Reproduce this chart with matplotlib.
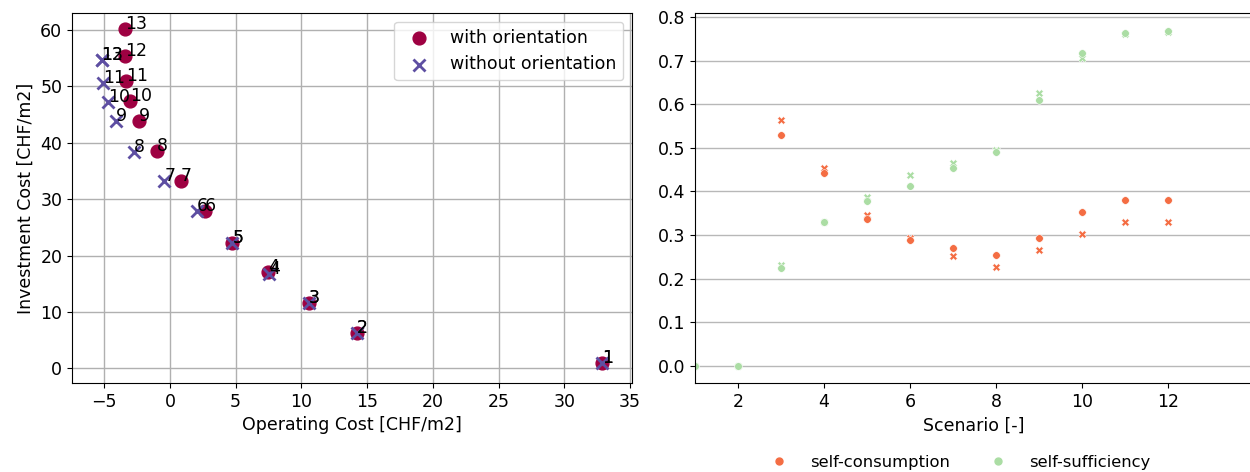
import matplotlib
matplotlib.use("Agg")
import matplotlib.pyplot as plt
from matplotlib.lines import Line2D
import numpy as np

# ---- left chart data ----
labels = ["1", "2", "3", "4", "5", "6", "7", "8", "9", "10", "11", "12", "13"]
op_with = [32.85, 14.2, 10.55, 7.48, 4.74, 2.66, 0.81, -1.01, -2.36, -3.04, -3.35, -3.42, -3.42]
inv_with = [0.94, 6.26, 11.6, 17.0, 22.3, 27.9, 33.2, 38.5, 43.9, 47.4, 51.0, 55.4, 60.1]
op_without = [32.85, 14.2, 10.55, 7.55, 4.74, 2.03, -0.43, -2.74, -4.13, -4.69, -5.12, -5.2, -5.2]
inv_without = [0.94, 6.26, 11.6, 16.8, 22.3, 27.9, 33.2, 38.4, 43.8, 47.3, 50.6, 54.7, 54.7]

# ---- right chart data ----
scenarios = [1, 2, 3, 4, 5, 6, 7, 8, 9, 10, 11, 12]
sc_with = [np.nan, np.nan, 0.530, 0.443, 0.336, 0.288, 0.270, 0.254, 0.293, 0.352, 0.380, 0.380]
sc_without = [np.nan, np.nan, 0.564, 0.455, 0.345, 0.292, 0.251, 0.227, 0.265, 0.303, 0.330, 0.331]
ss_with = [0.0, 0.0, 0.225, 0.330, 0.378, 0.412, 0.454, 0.490, 0.611, 0.717, 0.765, 0.769]
ss_without = [0.0, 0.0, 0.232, 0.330, 0.388, 0.437, 0.466, 0.496, 0.626, 0.707, 0.762, 0.767]

c_with = "#9e0142"
c_without = "#5e4fa2"
c_sc = "#f46d43"
c_ss = "#abdda4"

FS = 12.5
plt.rcParams["font.family"] = ["DejaVu Sans"]
plt.rcParams["font.size"] = FS

fig = plt.figure(figsize=(12.5, 4.72), dpi=100)
W, H = 1250, 472

def ax_rect(x0, x1, y0, y1):
    return [x0 / W, 1 - y1 / H, (x1 - x0) / W, (y1 - y0) / H]

ax1 = fig.add_axes(ax_rect(72, 632, 13, 383))
ax1.set_axisbelow(True)
ax1.grid(True, color="#b0b0b0", linewidth=1.0)
ax1.scatter(op_with, inv_with, s=85, color=c_with, marker="o", label="with orientation", zorder=2)
ax1.scatter(op_without, inv_without, s=75, color=c_without, marker="x", linewidths=2, label="without orientation", zorder=3)
for lab, x, y in zip(labels, op_with, inv_with):
    ax1.annotate(lab, (x, y), fontsize=FS, zorder=4)
for lab, x, y in zip(labels, op_without, inv_without):
    ax1.annotate(lab, (x, y), fontsize=FS, zorder=4)
ax1.set_xlim(-7.45, 35.15)
ax1.set_ylim(-2.6, 63.0)
ax1.set_xticks([-5, 0, 5, 10, 15, 20, 25, 30, 35])
ax1.set_yticks([0, 10, 20, 30, 40, 50, 60])
ax1.set_xlabel("Operating Cost [CHF/m2]")
ax1.set_ylabel("Investment Cost [CHF/m2]")
ax1.legend(loc="upper right", fontsize=FS, framealpha=0.8, edgecolor="#cccccc")

ax2 = fig.add_axes(ax_rect(695, 1252, 13, 383))
ax2.set_axisbelow(True)
ax2.yaxis.grid(True, color="#b8b8b8", linewidth=1.0)
ax2.scatter(scenarios, sc_without, s=32, color=c_sc, marker="X", edgecolors="white", linewidths=0.4, zorder=2)
ax2.scatter(scenarios, sc_with, s=30, color=c_sc, marker="o", edgecolors="white", linewidths=0.4, zorder=2)
ax2.scatter(scenarios, ss_without, s=32, color=c_ss, marker="X", edgecolors="white", linewidths=0.4, zorder=2)
ax2.scatter(scenarios, ss_with, s=30, color=c_ss, marker="o", edgecolors="white", linewidths=0.4, zorder=2)
ax2.set_xlim(1, 1 + (1252 - 695) / 43.0)
ax2.set_ylim(-0.04, 0.81)
ax2.set_xticks([2, 4, 6, 8, 10, 12])
ax2.set_yticks([0.0, 0.1, 0.2, 0.3, 0.4, 0.5, 0.6, 0.7, 0.8])
ax2.set_xlabel("Scenario [-]")
ax2.spines["right"].set_visible(False)
handles = [
    Line2D([], [], marker="o", linestyle="none", color=c_sc, markersize=5),
    Line2D([], [], marker="o", linestyle="none", color=c_ss, markersize=5),
]
fig.legend(handles, ["self-consumption", "self-sufficiency"], loc="center",
           bbox_to_anchor=(958 / W, 1 - 462 / H), bbox_transform=fig.transFigure,
           ncol=2, frameon=False, fontsize=11.8, columnspacing=2.15,
           handletextpad=1.1, handlelength=1.6, borderpad=0)

fig.savefig("out.png", dpi=100)
